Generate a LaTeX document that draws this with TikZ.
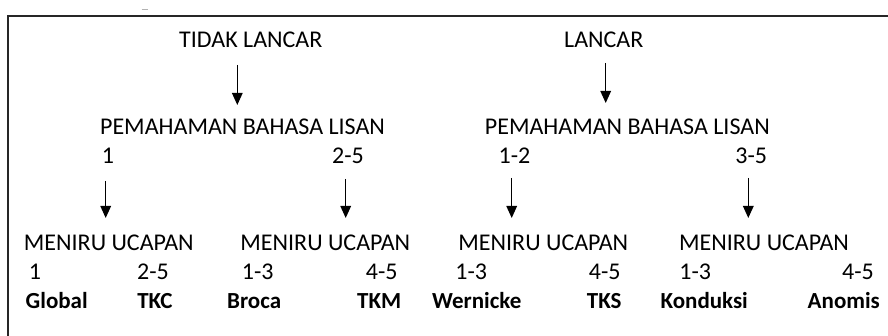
\documentclass[tikz,border=0pt]{standalone}
\usepackage{fontspec}
\setmainfont{Carlito}
\usetikzlibrary{arrows.meta}
\begin{document}
\begin{tikzpicture}[x=1pt,y=-1pt,
  lbl/.style={inner sep=0pt, outer sep=0pt, anchor=base, font=\fontsize{24}{28}\selectfont},
  bld/.style={lbl, font=\fontsize{23}{27}\selectfont\bfseries},
  arr/.style={-{Triangle[length=12pt,width=10.5pt]}, line width=1.4pt, black},
  frame/.style={line width=1.3pt, black!85}]
\useasboundingbox (0,0) rectangle (888,336);
\clip (0,0) rectangle (888,336);
\fill[white] (0,0) rectangle (888,336);
% frame (cut at right and bottom)
\draw[frame] (895,16) -- (8,16) -- (8,345);
\draw[gray!60, line width=0.8pt] (141.7,9.3) -- (148.3,9.3);
% top row
\node[lbl] (tl) at (250.8,47.7) {TIDAK LANCAR};
\node[lbl] (l) at (603.8,47.7) {LANCAR};
% second row
\node[lbl] (p1) at (242.5,135) {PEMAHAMAN BAHASA LISAN};
\node[lbl] (p2) at (627.3,135) {PEMAHAMAN BAHASA LISAN};
\node[lbl] (n1) at (108,163.3) {1};
\node[lbl] (n2) at (348,163.3) {2-5};
\node[lbl] (n3) at (514.5,163.3) {1-2};
\node[lbl] (n4) at (751.3,163.3) {3-5};
% third row
\node[lbl] (m1) at (108.8,251) {MENIRU UCAPAN};
\node[lbl] (m2) at (325.3,251) {MENIRU UCAPAN};
\node[lbl] (m3) at (543.3,251) {MENIRU UCAPAN};
\node[lbl] (m4) at (764,251) {MENIRU UCAPAN};
\node[lbl] (k1) at (35,279.3) {1};
\node[lbl] (k2) at (153,279.3) {2-5};
\node[lbl] (k3) at (257.7,279.3) {1-3};
\node[lbl] (k4) at (381.7,279.3) {4-5};
\node[lbl] (k5) at (471.3,279.3) {1-3};
\node[lbl] (k6) at (604.7,279.3) {4-5};
\node[lbl] (k7) at (695.3,279.3) {1-3};
\node[lbl] (k8) at (858,279.3) {4-5};
\node[bld] (b1) at (56.7,308.3) {Global};
\node[bld] (b2) at (155,308.3) {TKC};
\node[bld] (b3) at (254.2,308.3) {Broca};
\node[bld] (b4) at (379.2,308.3) {TKM};
\node[bld] (b5) at (476.7,308.3) {Wernicke};
\node[bld] (b6) at (604.2,308.3) {TKS};
\node[bld] (b7) at (704.2,308.3) {Konduksi};
\node[bld] (b8) at (843.8,308.3) {Anomis};
% arrow end points
\coordinate (a1s) at (237.3,65);  \coordinate (a1e) at (237.3,105);
\coordinate (a2s) at (605.7,63);  \coordinate (a2e) at (605.7,103);
\coordinate (a3s) at (105.7,181); \coordinate (a3e) at (105.7,218);
\coordinate (a4s) at (345.7,179); \coordinate (a4e) at (345.7,218);
\coordinate (a5s) at (511.7,178); \coordinate (a5e) at (511.7,218);
\coordinate (a6s) at (748.3,178); \coordinate (a6e) at (748.3,218);
\draw[arr] (a1s) -- (a1e);
\draw[arr] (a2s) -- (a2e);
\draw[arr] (a3s) -- (a3e);
\draw[arr] (a4s) -- (a4e);
\draw[arr] (a5s) -- (a5e);
\draw[arr] (a6s) -- (a6e);
\end{tikzpicture}
\end{document}
